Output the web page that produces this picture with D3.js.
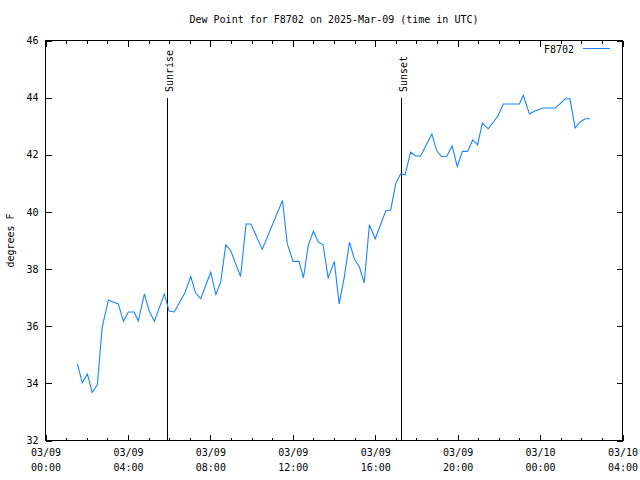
<!DOCTYPE html>
<html>
<head>
<meta charset="utf-8">
<script src="https://cdn.jsdelivr.net/npm/d3@7"></script>
<style>
  body { margin: 0; background: #fff; }
  svg { display: block; }
  text { font-family: "DejaVu Sans Mono", monospace; font-size: 10px; fill: #000; }
</style>
</head>
<body>
<svg id="chart" width="640" height="480"></svg>
<script>
const titleText = "Dew Point for F8702 on 2025-Mar-09 (time in UTC)";
const seriesName = "F8702";
const yLabel = "degrees F";
const times = [
  "2025-03-09 01:33","2025-03-09 01:47","2025-03-09 02:02","2025-03-09 02:16","2025-03-09 02:31",
  "2025-03-09 02:45","2025-03-09 03:03","2025-03-09 03:17","2025-03-09 03:32","2025-03-09 03:47",
  "2025-03-09 04:01","2025-03-09 04:18","2025-03-09 04:30","2025-03-09 04:48","2025-03-09 05:02",
  "2025-03-09 05:17","2025-03-09 05:46","2025-03-09 06:00","2025-03-09 06:15","2025-03-09 06:46",
  "2025-03-09 07:03","2025-03-09 07:17","2025-03-09 07:32","2025-03-09 08:01","2025-03-09 08:16",
  "2025-03-09 08:30","2025-03-09 08:45","2025-03-09 08:59","2025-03-09 09:28","2025-03-09 09:44",
  "2025-03-09 09:58","2025-03-09 10:31","2025-03-09 11:30","2025-03-09 11:44","2025-03-09 12:01",
  "2025-03-09 12:18","2025-03-09 12:31","2025-03-09 12:45","2025-03-09 13:00","2025-03-09 13:14",
  "2025-03-09 13:28","2025-03-09 13:43","2025-03-09 14:01","2025-03-09 14:15","2025-03-09 14:30",
  "2025-03-09 14:45","2025-03-09 14:59","2025-03-09 15:14","2025-03-09 15:28","2025-03-09 15:43",
  "2025-03-09 16:00","2025-03-09 16:31","2025-03-09 16:45","2025-03-09 17:00","2025-03-09 17:14",
  "2025-03-09 17:27","2025-03-09 17:43","2025-03-09 17:58","2025-03-09 18:12","2025-03-09 18:45",
  "2025-03-09 18:59","2025-03-09 19:13","2025-03-09 19:28","2025-03-09 19:44","2025-03-09 19:59",
  "2025-03-09 20:14","2025-03-09 20:29","2025-03-09 20:44","2025-03-09 20:58","2025-03-09 21:12",
  "2025-03-09 21:29","2025-03-09 21:44","2025-03-09 21:58","2025-03-09 22:13","2025-03-09 23:00",
  "2025-03-09 23:11","2025-03-09 23:29","2025-03-09 23:45","2025-03-10 00:09","2025-03-10 00:44",
  "2025-03-10 00:58","2025-03-10 01:13","2025-03-10 01:27","2025-03-10 01:42","2025-03-10 01:56",
  "2025-03-10 02:11","2025-03-10 02:25"
];
const dewPoint = [
  34.68,34.02,34.33,33.68,33.96,
  35.96,36.92,36.85,36.78,36.17,
  36.50,36.50,36.18,37.13,36.53,
  36.17,37.13,36.53,36.50,37.17,
  37.74,37.17,36.96,37.89,37.11,
  37.54,38.85,38.65,37.74,39.58,
  39.58,38.69,40.40,38.88,38.27,
  38.27,37.69,38.83,39.33,38.94,
  38.86,37.69,38.27,36.78,37.72,
  38.94,38.36,38.07,37.52,39.55,
  39.06,40.04,40.07,41.00,41.33,
  41.30,42.09,41.96,41.96,42.73,
  42.14,41.94,41.94,42.31,41.59,
  42.12,42.12,42.52,42.35,43.11,
  42.91,43.14,43.38,43.78,43.78,
  44.08,43.43,43.53,43.64,43.64,
  43.78,43.96,43.96,42.94,43.14,
  43.26,43.26
];
const xDomain = ["2025-03-09 00:00", "2025-03-10 04:00"];
const xTickTimes = ["2025-03-09 00:00","2025-03-09 04:00","2025-03-09 08:00","2025-03-09 12:00",
                    "2025-03-09 16:00","2025-03-09 20:00","2025-03-10 00:00","2025-03-10 04:00"];
const yTicks = [32, 34, 36, 38, 40, 42, 44, 46];
const sunEvents = [ {label: "Sunrise", time: "2025-03-09 05:54"}, {label: "Sunset", time: "2025-03-09 17:14"} ];

const parse = d3.utcParse("%Y-%m-%d %H:%M");
const data = times.map((t, i) => ({t: parse(t), v: dewPoint[i]}));

const L = 45.5, R = 622.5, T = 40.5, B = 440.5;
const svg = d3.select("#chart");

const x = d3.scaleUtc().domain(xDomain.map(parse)).range([L, R]);
const y = d3.scaleLinear().domain([32, 46]).range([B, T]);

// title
svg.append("text").attr("x", (L + R) / 2).attr("y", 23).attr("text-anchor", "middle").text(titleText);

// minor ticks (hourly)
const hours = d3.utcHour.range(x.domain()[0], d3.utcHour.offset(x.domain()[1], 1));
svg.append("g").attr("transform", `translate(0,${B})`)
  .call(d3.axisBottom(x).tickValues(hours).tickSize(-3).tickFormat(""));
svg.append("g").attr("transform", `translate(0,${T})`)
  .call(d3.axisTop(x).tickValues(hours).tickSize(-3).tickFormat(""));

// major x ticks
const fmtDate = d3.utcFormat("%m/%d"), fmtTime = d3.utcFormat("%H:%M");
const gx = svg.append("g").attr("transform", `translate(0,${B})`)
  .call(d3.axisBottom(x).tickValues(xTickTimes.map(parse)).tickSize(-6).tickPadding(8).tickFormat(""));
gx.selectAll(".tick").append("text")
  .attr("text-anchor", "middle").attr("fill", "#000")
  .each(function(d) {
    const s = d3.select(this);
    s.append("tspan").attr("x", 0).attr("y", 15).text(fmtDate(d));
    s.append("tspan").attr("x", 0).attr("y", 30).text(fmtTime(d));
  });
svg.append("g").attr("transform", `translate(0,${T})`)
  .call(d3.axisTop(x).tickValues(xTickTimes.map(parse)).tickSize(-6).tickFormat(""));

// y axes
svg.append("g").attr("transform", `translate(${L},0)`)
  .call(d3.axisLeft(y).tickValues(yTicks).tickSize(-6).tickPadding(7).tickFormat(d3.format("d")));
svg.append("g").attr("transform", `translate(${R},0)`)
  .call(d3.axisRight(y).tickValues(yTicks).tickSize(-6).tickFormat(""));

svg.selectAll(".domain").remove();
svg.selectAll(".tick line").attr("stroke", "#000").attr("shape-rendering", "crispEdges");
svg.selectAll(".tick text").attr("font-family", "DejaVu Sans Mono, monospace").attr("font-size", 10);

// frame
svg.append("rect").attr("x", L).attr("y", T).attr("width", R - L).attr("height", B - T)
  .attr("fill", "none").attr("stroke", "#000").attr("shape-rendering", "crispEdges");

// y label
svg.append("text").attr("transform", `translate(14,${(T + B) / 2}) rotate(-90)`)
  .attr("text-anchor", "middle").text(yLabel);

// sun lines
sunEvents.forEach(ev => {
  const xs = Math.round(x(parse(ev.time))) + 0.5;
  svg.append("line").attr("x1", xs).attr("x2", xs).attr("y1", 98).attr("y2", B)
    .attr("stroke", "#000").attr("shape-rendering", "crispEdges");
  svg.append("text").attr("transform", `translate(${xs + 5},92) rotate(-90)`)
    .attr("text-anchor", "start").text(ev.label);
});

// data line
const line = d3.line().x(d => x(d.t)).y(d => y(d.v));
svg.append("path").datum(data).attr("d", line)
  .attr("fill", "none").attr("stroke", "#1a84ff").attr("stroke-width", 1.1);

// legend
svg.append("text").attr("x", 574).attr("y", 53).attr("text-anchor", "end").text(seriesName);
svg.append("line").attr("x1", 583).attr("x2", 610).attr("y1", 48.5).attr("y2", 48.5)
  .attr("stroke", "#1a84ff").attr("shape-rendering", "crispEdges");
</script>
</body>
</html>
